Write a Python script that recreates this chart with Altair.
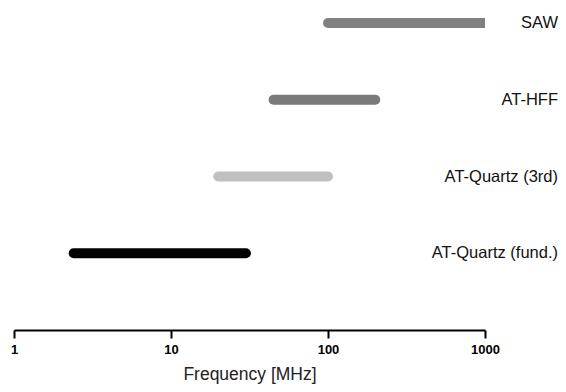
import altair as alt
import pandas as pd

labels = ["SAW", "AT-HFF", "AT-Quartz (3rd)", "AT-Quartz (fund.)"]
starts = [100, 45, 20, 2.4]
ends = [1000, 200, 100, 30]
rows = [4, 3, 2, 1]
colors = ["#808080", "#7a7a7a", "#c0c0c0", "#000000"]

df = pd.DataFrame({"label": labels, "start": starts, "end": ends, "row": rows, "color": colors})

W, H = 471, 320

xscale = alt.Scale(type="log", domain=[1, 1000])
yscale = alt.Scale(domain=[0, 4.17])

bars = alt.Chart(df).mark_rule(strokeWidth=10, strokeCap="round", clip=True).encode(
    x=alt.X("start:Q", scale=xscale,
            axis=alt.Axis(values=[1, 10, 100, 1000], format="d", title="Frequency [MHz]",
                          domainColor="black", domainWidth=2, tickColor="black", tickWidth=2,
                          tickSize=8, labelFont="Liberation Sans", labelFontWeight="bold",
                          labelFontSize=13, labelColor="black", labelPadding=5,
                          titleFont="Liberation Sans", titleFontWeight="normal", titleFontSize=17.5,
                          titleColor="#222222", titlePadding=9, grid=False, labelFlush=False)),
    x2="end:Q",
    y=alt.Y("row:Q", scale=yscale, axis=None),
    color=alt.Color("color:N", scale=None),
)

text = alt.Chart(df).mark_text(align="right", baseline="middle", font="Liberation Sans",
                               fontSize=16.5, color="#111111").encode(
    x=alt.value(544),
    y=alt.Y("row:Q", scale=yscale, axis=None),
    text="label:N",
)

chart = alt.layer(bars, text).properties(
    width=W, height=H,
    autosize=alt.AutoSizeParams(type="none"),
    padding={"left": 6, "top": 2, "right": 73, "bottom": 54},
).configure_view(stroke=None)

chart.save("out.html", embed_options={"renderer": "svg", "actions": False})
